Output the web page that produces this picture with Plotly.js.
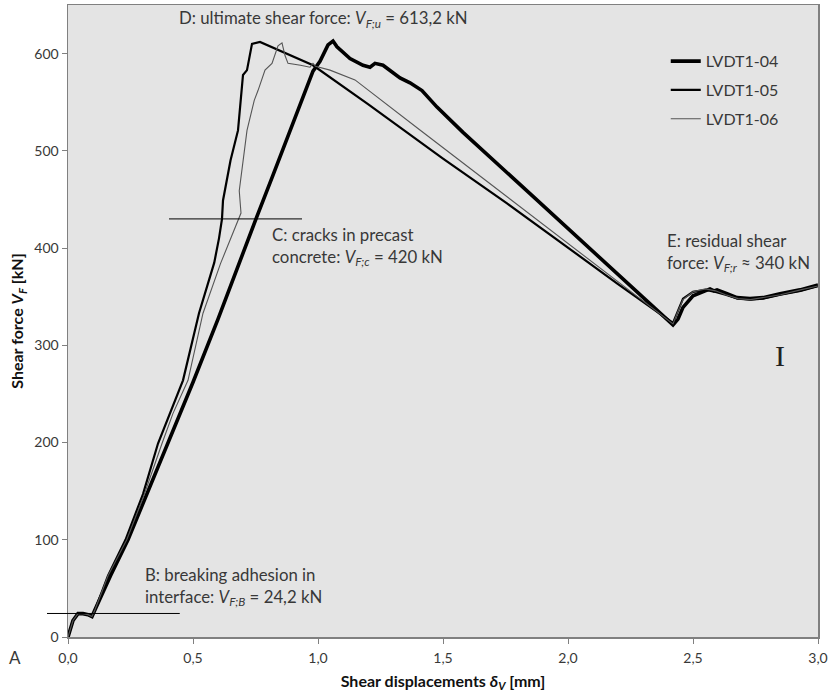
<!DOCTYPE html>
<html>
<head>
<meta charset="utf-8">
<script src="https://cdn.plot.ly/plotly-3.0.1.min.js"></script>
<style>html,body{margin:0;padding:0;background:#fff;}#chart{width:828px;height:697px;}</style>
</head>
<body>
<div id="chart"></div>
<script>
// ---- data ----
const seriesNames = ['LVDT1-04', 'LVDT1-05', 'LVDT1-06'];

const x04 = [0, 0.01, 0.02, 0.04, 0.06, 0.08, 0.096, 0.108, 0.17, 0.24, 0.32, 0.40, 0.50, 0.60, 0.68, 0.752, 0.82, 0.888, 0.94, 0.98, 1.008, 1.04, 1.06, 1.076, 1.128, 1.18, 1.208, 1.228, 1.26, 1.296, 1.328, 1.368, 1.416, 1.476, 1.58, 1.848, 2.10, 2.30, 2.42, 2.44, 2.46, 2.50, 2.556, 2.568, 2.584, 2.596, 2.636, 2.676, 2.728, 2.78, 2.848, 2.928, 3.0];
const y04 = [0, 9, 17, 24, 24, 23, 21, 28, 63, 100, 150, 199, 262, 327, 382, 430, 475, 521, 556, 582, 592, 609, 613, 607, 595, 588, 586, 590, 588, 581, 575, 570, 562, 545, 519, 456, 396, 349, 321, 327, 339, 351, 357, 358, 356, 357, 353, 349, 348, 349, 353, 357, 362];

const x05 = [0, 0.01, 0.02, 0.04, 0.06, 0.08, 0.096, 0.108, 0.16, 0.23, 0.30, 0.36, 0.41, 0.46, 0.524, 0.585, 0.604, 0.616, 0.62, 0.65, 0.68, 0.70, 0.716, 0.736, 0.768, 0.98, 1.2, 1.5, 1.756, 2.0, 2.2, 2.42, 2.44, 2.46, 2.50, 2.55, 2.57, 2.59, 2.63, 2.68, 2.73, 2.78, 2.85, 2.93, 3.0];
const y05 = [0, 9, 17, 24, 24, 23, 21, 28, 63, 100, 147, 199, 232, 264, 333, 385, 410, 430, 449, 490, 521, 578, 583, 610, 612, 588, 548, 492, 446, 400, 363, 323, 336, 348, 355, 357, 356, 355, 352, 348, 347, 348, 352, 356, 361];

const x06 = [0, 0.01, 0.02, 0.04, 0.06, 0.08, 0.096, 0.108, 0.16, 0.235, 0.30, 0.376, 0.42, 0.48, 0.54, 0.61, 0.65, 0.692, 0.685, 0.70, 0.716, 0.745, 0.76, 0.788, 0.816, 0.84, 0.856, 0.868, 0.88, 0.93, 0.968, 0.98, 0.99, 1.048, 1.148, 1.4, 1.756, 2.0, 2.2, 2.42, 2.44, 2.46, 2.50, 2.55, 2.57, 2.59, 2.63, 2.68, 2.73, 2.78, 2.85, 2.93, 3.0];
const y06 = [0, 9, 17, 24, 24, 23, 21, 28, 63, 100, 143, 199, 230, 264, 333, 384, 410, 436, 459, 490, 521, 552, 562, 583, 590, 608, 611, 598, 590, 588, 586, 590, 587, 583, 573, 523, 453, 405, 366, 322, 335, 347, 355, 358, 357, 356, 352, 348, 347, 349, 352, 357, 361];

const levelB = 24.2;
const levelC = 430;

const FONT = 'Lato, "Open Sans", sans-serif';
const TXT = '#383838';
const ANN = 16.8;

const traces = [
  {x: x04, y: y04, name: seriesNames[0], type: 'scatter', mode: 'lines', line: {color: '#000000', width: 3.6}, legendgroup: 'a'},
  {x: x05, y: y05, name: seriesNames[1], type: 'scatter', mode: 'lines', line: {color: '#000000', width: 2.2}, legendgroup: 'b'},
  {x: x06, y: y06, name: seriesNames[2], type: 'scatter', mode: 'lines', line: {color: '#555555', width: 1.1}, legendgroup: 'c'}
];

const layout = {
  width: 828, height: 697,
  margin: {l: 68, r: 10, t: 5, b: 60},
  paper_bgcolor: '#ffffff',
  plot_bgcolor: '#e4e4e4',
  separators: ', ',
  font: {family: FONT, size: 14, color: TXT},
  showlegend: true,
  legend: {x: 0.797, xanchor: 'left', y: 0.938, yanchor: 'top', bgcolor: 'rgba(0,0,0,0)',
           font: {family: FONT, size: 16, color: TXT}, tracegroupgap: 5, traceorder: 'grouped'},
  xaxis: {
    range: [0, 3], dtick: 0.5, tick0: 0, tickformat: '.1f',
    showgrid: false, zeroline: false,
    showline: true, mirror: true, linecolor: '#808080', linewidth: 1.5,
    ticks: 'outside', ticklen: 5, tickcolor: '#808080', ticklabelstandoff: 3,
    tickfont: {family: FONT, size: 14, color: TXT},
    title: {text: '<b>Shear displacements <i>δ</i><sub><i>V</i></sub> [mm]</b>', font: {family: FONT, size: 16, color: '#111'}, standoff: 10}
  },
  yaxis: {
    range: [0, 650], dtick: 100, tick0: 0, tickformat: 'd',
    showgrid: false, zeroline: false,
    showline: true, mirror: true, linecolor: '#808080', linewidth: 1.5,
    ticks: 'outside', ticklen: 5, tickcolor: '#808080',
    tickfont: {family: FONT, size: 14, color: TXT},
    title: {text: '<b>Shear force <i>V</i><sub><i>F</i></sub> [kN]</b>', font: {family: FONT, size: 16, color: '#111'}, standoff: 6}
  },
  shapes: [
    {type: 'line', xref: 'paper', yref: 'y', x0: -0.028, x1: 0.149, y0: levelB, y1: levelB, line: {color: '#000', width: 1}},
    {type: 'line', xref: 'paper', yref: 'y', x0: 0.1347, x1: 0.312, y0: levelC, y1: levelC, line: {color: '#000', width: 1}}
  ],
  annotations: [
    {xref: 'x', yref: 'y', x: 1.02, y: 636, xanchor: 'center', yanchor: 'middle', showarrow: false,
     text: 'D: ultimate shear force: <i>V</i><sub><i>F;u</i></sub> = 613,2 kN', font: {family: FONT, size: ANN, color: TXT}},
    {xref: 'x', yref: 'y', x: 0.808, y: 402, xanchor: 'left', yanchor: 'middle', align: 'left', showarrow: false,
     text: 'C: cracks in precast<br>concrete: <i>V</i><sub><i>F;c</i></sub> = 420 kN', font: {family: FONT, size: ANN, color: TXT}},
    {xref: 'x', yref: 'y', x: 0.30, y: 52, xanchor: 'left', yanchor: 'middle', align: 'left', showarrow: false,
     text: 'B: breaking adhesion in<br>interface: <i>V</i><sub><i>F;B</i></sub> = 24,2 kN', font: {family: FONT, size: ANN, color: TXT}},
    {xref: 'x', yref: 'y', x: 2.388, y: 395, xanchor: 'left', yanchor: 'middle', align: 'left', showarrow: false,
     text: 'E: residual shear<br>force: <i>V</i><sub><i>F;r</i></sub> ≈ 340 kN', font: {family: FONT, size: ANN, color: TXT}},
    {xref: 'x', yref: 'y', x: 2.848, y: 290, xanchor: 'center', yanchor: 'middle', showarrow: false,
     text: 'I', font: {family: '"Liberation Serif", "DejaVu Serif", serif', size: 30, color: '#222'}},
    {xref: 'paper', yref: 'paper', x: -0.071, y: -0.033, xanchor: 'center', yanchor: 'middle', showarrow: false,
     text: 'A', font: {family: FONT, size: 17, color: TXT}}
  ]
};

Plotly.newPlot('chart', traces, layout, {displayModeBar: false, staticPlot: true});
</script>
</body>
</html>
